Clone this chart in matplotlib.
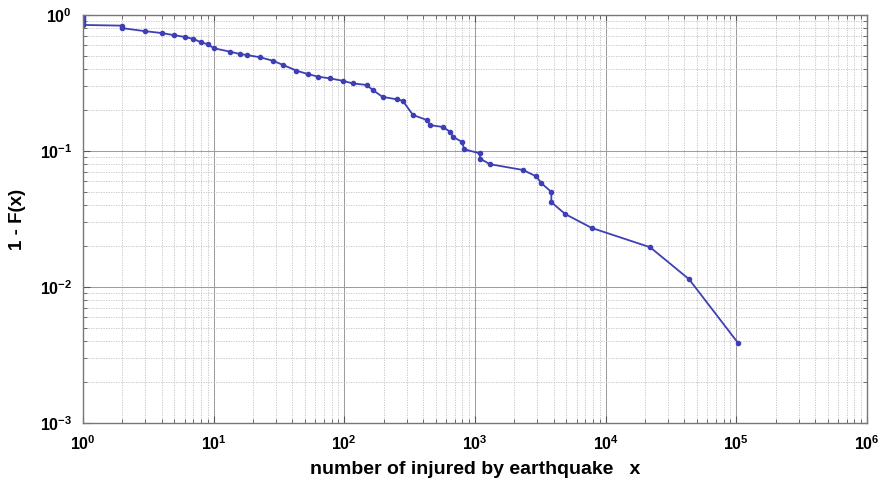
import matplotlib
matplotlib.use("Agg")
import matplotlib.pyplot as plt
from matplotlib.ticker import LogLocator, FuncFormatter, NullFormatter
import numpy as np

# Empirical complementary CDF of earthquake injury counts
injured = [1, 1, 1, 1, 1, 1, 2, 2, 3, 4, 5, 6, 7, 8, 9, 10, 13.4, 16, 17.9, 22.6,
           28.4, 34, 43, 52.5, 63, 77.5, 97.6, 116, 148, 165, 196, 251, 280, 335,
           428, 455, 570, 640, 680, 790, 830, 1090, 1090, 1300, 2330, 2950, 3220,
           3840, 3840, 4900, 7800, 21900, 43500, 103000]
ccdf = [1.0, 0.97, 0.94, 0.91, 0.88, 0.845, 0.835, 0.80, 0.76, 0.737, 0.71, 0.69,
        0.667, 0.63, 0.61, 0.57, 0.537, 0.516, 0.508, 0.489, 0.461, 0.429, 0.39,
        0.368, 0.352, 0.342, 0.328, 0.314, 0.306, 0.281, 0.25, 0.24, 0.234, 0.184,
        0.169, 0.155, 0.15, 0.139, 0.127, 0.117, 0.103, 0.096, 0.088, 0.080,
        0.0725, 0.065, 0.058, 0.050, 0.042, 0.0344, 0.0272, 0.0196, 0.0114, 0.00388]

x_decades = [0, 1, 2, 3, 4, 5, 6]
y_decades = [-3, -2, -1, 0]
x_label = "number of injured by earthquake   x"
y_label = "1 - F(x)"

plt.rcParams["font.family"] = ["Liberation Sans", "DejaVu Sans"]
plt.rcParams["font.weight"] = "bold"
plt.rcParams["mathtext.fontset"] = "custom"
plt.rcParams["mathtext.rm"] = "Liberation Sans:bold"
plt.rcParams["mathtext.bf"] = "Liberation Sans:bold"
plt.rcParams["mathtext.it"] = "Liberation Sans:bold"

fig = plt.figure(figsize=(8.82, 4.86), dpi=100)
ax = fig.add_axes([83 / 882, 1 - 423 / 486, (867 - 83) / 882, (423 - 15) / 486])

line_color = "#3f3fb5"
ax.loglog(injured, ccdf, "-", color=line_color, lw=1.3, marker="o", ms=3.0,
          mfc=line_color, mec=line_color)

ax.set_xlim(1, 1e6)
ax.set_ylim(1e-3, 1)

ax.set_xticks([10.0 ** k for k in x_decades])
ax.set_yticks([10.0 ** k for k in y_decades])
ax.xaxis.set_minor_locator(LogLocator(base=10, subs=np.arange(2, 10), numticks=20))
ax.yaxis.set_minor_locator(LogLocator(base=10, subs=np.arange(2, 10), numticks=20))
fmt = FuncFormatter(lambda v, p: r"$\mathbf{10^{%d}}$" % int(round(np.log10(v))))
ax.xaxis.set_major_formatter(fmt)
ax.yaxis.set_major_formatter(fmt)
ax.xaxis.set_minor_formatter(NullFormatter())
ax.yaxis.set_minor_formatter(NullFormatter())

ax.grid(True, which="major", color="#9a9a9a", ls="-", lw=0.7)
ax.grid(True, which="minor", color="#c0c0c0", ls=(0, (1.5, 1.5)), lw=0.6)
ax.set_axisbelow(True)

ax.tick_params(which="both", direction="in", top=True, right=True, color="#555555")
ax.tick_params(which="major", length=5, width=0.8, labelsize=11.5, pad=8)
ax.tick_params(which="minor", length=3, width=0.6)
for s in ax.spines.values():
    s.set_color("#777777")
    s.set_linewidth(1.0)

ax.set_xlabel(x_label, fontsize=14, fontweight="bold", labelpad=6)
ax.set_ylabel(y_label, fontsize=13.5, fontweight="bold", labelpad=10)

fig.savefig("out.png", dpi=100)
